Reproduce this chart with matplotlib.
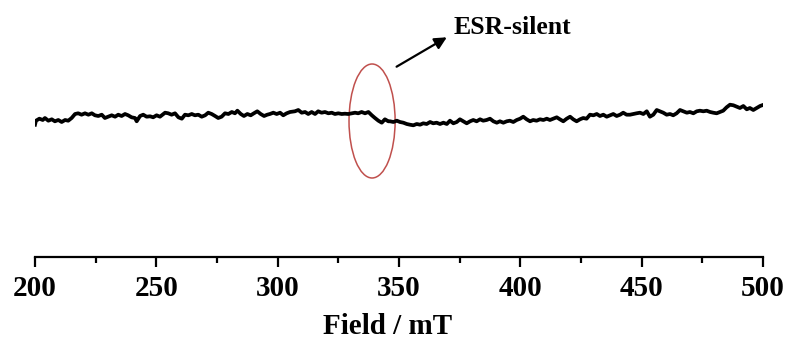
import matplotlib
matplotlib.use("Agg")
import matplotlib.pyplot as plt
from matplotlib.patches import Ellipse

plt.rcParams["font.family"] = ["Liberation Serif", "DejaVu Serif"]
plt.rcParams["font.weight"] = "bold"

# ESR spectrum (field in mT, signal in a.u.)
field = [
    200.0, 200.4, 201.8, 203.2, 204.1, 205.5, 206.9, 208.2, 209.6, 211.0,
    212.4, 213.7, 215.1, 216.5, 217.8, 219.2, 220.6, 222.0, 223.4, 224.7,
    226.1, 227.5, 228.8, 230.2, 231.6, 233.0, 234.3, 235.7, 237.1, 238.4,
    239.8, 241.2, 241.9, 243.3, 244.6, 246.0,
    247.4, 248.7, 250.1, 251.5, 253.6, 254.9, 256.3, 257.7, 259.1, 260.5,
    261.8, 263.2, 264.6, 265.9, 267.3, 268.7, 270.1, 271.4, 272.8, 274.2,
    275.5, 276.9, 278.3, 279.7, 281.1, 282.4, 283.4, 284.8, 286.1, 287.5,
    288.9, 290.2, 291.6, 293.0, 294.4, 295.7,
    296.8, 298.2, 299.6, 301.0, 302.3, 303.7, 305.1, 307.1, 308.5, 309.9,
    311.3, 312.6, 314.0, 315.4, 316.7, 318.1, 319.5, 320.9, 322.3, 323.6,
    325.0, 326.4, 327.7, 329.1, 330.5, 331.9, 333.2, 334.6, 336.0, 337.4,
    338.8, 340.1, 341.5, 342.9, 344.2, 345.6,
    346.3, 347.7, 349.1, 350.4, 351.8, 353.2, 354.5, 355.9, 357.3, 358.7,
    360.0, 361.4, 362.8, 364.1, 365.5, 366.9, 368.3, 369.7, 371.0, 372.4,
    373.8, 375.1, 376.5, 377.9, 379.3, 380.6, 382.0, 383.4, 384.7, 386.1,
    387.5, 388.9, 390.3, 391.6, 393.0, 394.4,
    395.7, 397.1, 398.5, 399.9, 401.2, 402.6, 404.0, 405.3, 406.7, 408.1,
    409.5, 410.9, 412.2, 413.6, 415.0, 416.3, 417.7, 419.1, 420.5, 421.8,
    423.2, 424.6, 425.9, 427.3, 428.7, 430.1, 431.5, 432.8, 434.2, 435.6,
    437.0, 438.3, 439.7, 441.1, 442.4, 443.8,
    445.2, 446.5, 447.9, 449.3, 450.7, 452.1, 453.4, 454.8, 456.2, 457.5,
    458.9, 460.3, 461.7, 463.0, 464.4, 465.8, 467.2, 468.6, 469.9, 471.3,
    472.7, 474.0, 475.4, 476.8, 478.2, 479.5, 480.9, 482.3, 483.6, 485.0,
    486.4, 487.8, 489.2, 490.5, 491.9, 493.3, 494.6, 496.0, 497.4, 498.8,
    499.6,
]

signal = [
    -6.7, -2.7, -0.7, -2.0, 0.0, -2.7, -1.3, -3.3, -2.0, -4.0,
    -2.0, -2.7, 0.0, 4.0, 4.7, 3.3, 4.7, 3.3, 4.7, 2.7,
    2.0, 3.3, 0.0, 1.3, 2.7, 1.3, 3.3, 2.0, 4.0, 2.7,
    0.7, 0.0, -3.3, 2.0, 3.3, 1.3,
    1.7, 0.7, 2.7, 1.3, 5.3, 4.7, 3.3, 4.7, 0.7, -0.7,
    3.3, 2.7, 4.0, 2.7, 3.3, 1.3, 2.7, 5.3, 4.0, 2.0,
    0.0, 1.3, 4.7, 4.0, 6.0, 4.7, 7.3, 4.0, 2.0, 4.0,
    2.7, 4.7, 6.7, 4.0, 2.0, 3.3,
    4.0, 5.3, 4.0, 5.3, 2.7, 4.7, 6.0, 6.7, 8.0, 5.3,
    6.0, 4.0, 6.0, 4.0, 6.7, 5.3, 6.0, 4.7, 5.3, 4.0,
    4.7, 4.0, 4.3, 4.0, 4.7, 5.3, 4.7, 6.0, 4.7, 6.0,
    2.7, 0.0, -2.7, -4.7, -1.3, -3.3,
    -3.3, -4.0, -2.7, -4.0, -4.7, -6.0, -6.7, -7.3, -6.0, -6.7,
    -5.3, -6.0, -4.0, -5.3, -4.7, -6.0, -4.7, -6.0, -2.7, -5.3,
    -4.0, -1.3, -3.3, -5.3, -3.3, -2.0, -3.3, -1.3, -2.7, -2.0,
    -0.7, -3.3, -4.7, -3.3, -4.7, -3.3,
    -2.7, -4.0, -2.0, -0.7, 1.3, -1.3, -3.3, -2.0, -2.7, -1.3,
    -2.0, -0.7, -2.0, -0.7, 0.7, -1.3, -3.3, -0.7, 1.3, -1.3,
    -3.3, -1.3, 0.0, -0.7, 3.3, 2.7, 4.0, 2.0, 3.3, 1.3,
    2.7, 4.0, 2.0, 3.3, 5.3, 3.3,
    3.3, 4.0, 4.7, 5.3, 4.0, 6.7, 1.3, 3.3, 8.0, 6.7,
    5.3, 3.3, 4.0, 2.7, 4.7, 8.0, 6.7, 5.3, 6.0, 4.7,
    6.7, 7.3, 6.7, 7.3, 6.0, 5.3, 4.7, 6.0, 7.3, 10.7,
    13.3, 12.7, 11.3, 10.0, 12.0, 8.7, 10.0, 8.0, 10.0, 12.0,
    12.7,
]

major_ticks = [200, 250, 300, 350, 400, 450, 500]
minor_ticks = [225, 275, 325, 375, 425, 475]

fig = plt.figure(figsize=(7.89, 3.41), dpi=100)
ax = fig.add_axes([35 / 789, (341 - 257) / 341, 728 / 789, 257 / 341])

ax.plot(field, signal, color="black", lw=2.7)

ax.set_xlim(200, 500)
ax.set_ylim(-139, 118)

for side in ["left", "right", "top"]:
    ax.spines[side].set_visible(False)
ax.spines["bottom"].set_linewidth(1.6)
ax.set_yticks([])

ax.set_xticks(major_ticks)
ax.set_xticks(minor_ticks, minor=True)
ax.tick_params(axis="x", which="major", length=7, width=1.6, pad=6,
               labelsize=21)
ax.tick_params(axis="x", which="minor", length=4, width=1.6)
for lab in ax.get_xticklabels():
    lab.set_fontweight("bold")

ax.set_xlabel("Field / mT", fontsize=21, fontweight="bold")
ax.xaxis.set_label_coords((387.5 - 35) / 728, (257 - 334.5) / 257)
ax.xaxis.label.set_va("baseline")

# red ellipse around the g~2 region
ax.add_patch(Ellipse((338.9, -3), 19.0, 114, fill=False,
                     edgecolor="#C0504D", lw=1.1))

ax.annotate("", xy=(369.7, 80.7), xytext=(349.0, 51.3),
            arrowprops=dict(arrowstyle="-|>", color="black", lw=1.6,
                            mutation_scale=18, shrinkA=0, shrinkB=0))
ax.text(372.3, 83.7, "ESR-silent", fontsize=18.5, fontweight="bold",
        ha="left", va="baseline")

fig.savefig("out.png", dpi=100)
